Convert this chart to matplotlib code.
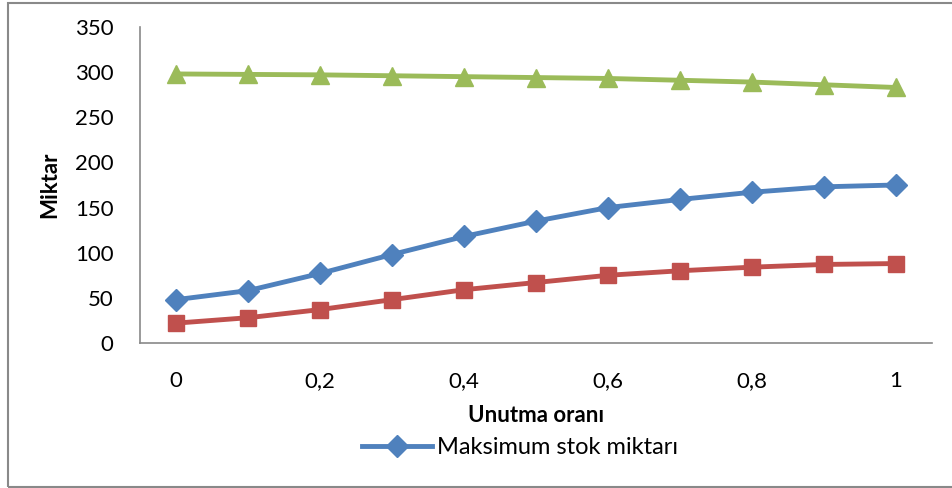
import matplotlib.pyplot as plt
from matplotlib.patches import Rectangle

plt.rcParams['font.family'] = ['Lato', 'DejaVu Sans']

x = [0, 0.1, 0.2, 0.3, 0.4, 0.5, 0.6, 0.7, 0.8, 0.9, 1.0]
maks_stok = [48, 58, 77, 98, 118, 135, 150, 159, 167, 173, 175]
red_series = [22, 28, 37, 48, 59, 67, 75, 80, 84, 87, 88]
green_series = [298, 297.5, 297, 296, 295, 294, 293, 291, 289, 286, 283]

xtick_vals = [0, 0.2, 0.4, 0.6, 0.8, 1.0]
xtick_labels = ["0", "0,2", "0,4", "0,6", "0,8", "1"]
ytick_vals = [0, 50, 100, 150, 200, 250, 300, 350]

fig = plt.figure(figsize=(9.52, 4.88), dpi=100)
ax = fig.add_axes([140/952, 1 - 343/488, (932 - 140)/952, (343 - 27)/488])

ax.plot(x, maks_stok, color="#4F81BD", lw=3.5, marker="D", ms=11, label="Maksimum stok miktarı")
ax.plot(x, red_series, color="#C0504D", lw=3.5, marker="s", ms=12)
ax.plot(x, green_series, color="#9BBB59", lw=3.5, marker="^", ms=13)

ax.set_xlim(-0.05, 1.05)
ax.set_ylim(0, 350)
ax.set_xticks(xtick_vals)
ax.set_xticklabels(xtick_labels)
ax.set_yticks(ytick_vals)
ax.tick_params(length=0, labelsize=16)
ax.tick_params(axis='x', pad=20)
ax.tick_params(axis='y', pad=19)
for s in ["top", "right"]:
    ax.spines[s].set_visible(False)
for s in ["left", "bottom"]:
    ax.spines[s].set_color("#898989")
    ax.spines[s].set_linewidth(1.2)

ax.set_xlabel("Unutma oranı", fontsize=16, fontweight="bold", labelpad=10)
ax.set_ylabel("Miktar", fontsize=16, fontweight="bold", va="center")
ax.yaxis.set_label_coords(50/952, 1 - 185/488, transform=fig.transFigure)

fig.legend(loc="center", bbox_to_anchor=(520/952, 1 - 448/488), frameon=False,
           fontsize=17, handlelength=3.0, handletextpad=0.2)

fig.patches.append(Rectangle((8/952, 1/488), 1.2, 1 - 4/488, transform=fig.transFigure,
                             fill=False, edgecolor="#898989", lw=1.5))

fig.savefig("out.png", dpi=100)
